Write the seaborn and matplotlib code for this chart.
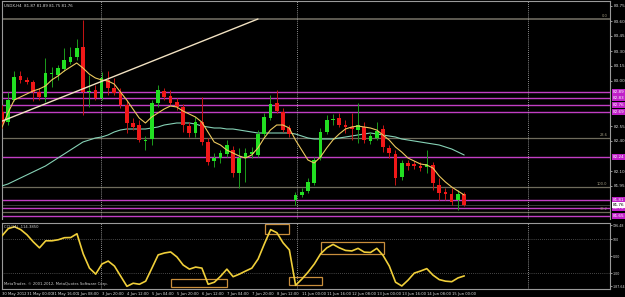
import numpy as np
import pandas as pd
import seaborn as sns
import matplotlib.pyplot as plt
from matplotlib.patches import Rectangle

# USDX H4 candles
opens = [82.69, 82.59, 82.81, 83.05, 83.01, 82.99, 82.89, 82.84, 83.07, 83.06,
         83.12, 83.19, 83.24, 83.34, 82.89, 82.91, 82.83, 83.01, 82.93, 82.89,
         82.76, 82.58, 82.56, 82.40, 82.42, 82.78, 82.90, 82.85, 82.79, 82.74,
         82.55, 82.48, 82.59, 82.39, 82.20, 82.23, 82.27, 82.31, 82.08, 82.23,
         82.27, 82.26, 82.47, 82.63, 82.78, 82.69, 82.53, 81.81, 81.86, 81.90,
         81.98, 82.23, 82.49, 82.61, 82.63, 82.56, 82.54, 82.51, 82.54, 82.40,
         82.43, 82.52, 82.33, 82.27, 82.04, 82.18, 82.17, 82.15, 82.14, 82.16,
         81.96, 81.89, 81.87, 81.81, 81.87]
highs = [82.76, 82.89, 83.10, 83.10, 83.04, 83.01, 82.93, 83.23, 83.14, 83.16,
         83.33, 83.34, 83.42, 83.61, 83.06, 82.96, 83.09, 83.10, 83.03, 82.93,
         82.81, 82.63, 82.61, 82.45, 82.81, 82.96, 82.93, 82.91, 82.83, 82.77,
         82.59, 82.64, 82.84, 82.43, 82.28, 82.31, 82.41, 82.35, 82.33, 82.33,
         82.34, 82.51, 82.68, 82.86, 82.91, 82.73, 82.56, 81.89, 81.93, 82.03,
         82.24, 82.53, 82.66, 82.67, 82.68, 82.61, 82.68, 82.78, 82.59, 82.49,
         82.59, 82.56, 82.36, 82.31, 82.21, 82.21, 82.20, 82.19, 82.31, 82.19,
         82.03, 81.93, 81.93, 81.91, 81.89]
lows = [82.53, 82.56, 82.80, 82.98, 82.97, 82.80, 82.81, 82.79, 82.94, 83.01,
        83.10, 83.17, 83.21, 82.66, 82.74, 82.81, 82.81, 82.86, 82.86, 82.73,
        82.48, 82.51, 82.39, 82.31, 82.36, 82.74, 82.81, 82.76, 82.71, 82.49,
        82.44, 82.44, 82.36, 82.16, 82.14, 82.18, 82.24, 82.04, 81.93, 81.99,
        82.23, 82.24, 82.45, 82.61, 82.68, 82.49, 82.44, 81.76, 81.84, 81.88,
        81.96, 82.21, 82.47, 82.56, 82.54, 82.48, 82.41, 82.38, 82.38, 82.37,
        82.41, 82.29, 82.23, 81.96, 82.01, 82.11, 82.12, 82.10, 82.08, 81.91,
        81.81, 81.81, 81.76, 81.71, 81.75]
closes = [82.58, 82.81, 83.04, 83.01, 82.99, 82.89, 82.84, 83.08, 83.08, 83.13,
          83.21, 83.24, 83.33, 82.89, 82.90, 82.83, 83.03, 82.93, 82.88, 82.76,
          82.58, 82.54, 82.41, 82.41, 82.78, 82.91, 82.84, 82.78, 82.74, 82.56,
          82.48, 82.59, 82.39, 82.19, 82.23, 82.28, 82.36, 82.08, 82.23, 82.28,
          82.29, 82.47, 82.64, 82.77, 82.70, 82.51, 82.47, 81.86, 81.89, 81.99,
          82.21, 82.49, 82.61, 82.62, 82.56, 82.54, 82.52, 82.56, 82.41, 82.45,
          82.50, 82.34, 82.28, 82.03, 82.18, 82.15, 82.15, 82.13, 82.17, 81.98,
          81.88, 81.87, 81.79, 81.87, 81.76]

# moving averages as drawn on the chart
ma_fast = [82.53, 82.68, 82.81, 82.84, 82.87, 82.90, 82.92, 82.95, 83.01, 83.05,
           83.10, 83.14, 83.18, 83.13, 83.07, 83.03, 83.01, 83.00, 82.97, 82.89,
           82.81, 82.72, 82.63, 82.58, 82.64, 82.68, 82.72, 82.75, 82.74, 82.70,
           82.67, 82.64, 82.59, 82.49, 82.39, 82.36, 82.31, 82.28, 82.25, 82.23,
           82.26, 82.33, 82.43, 82.51, 82.56, 82.56, 82.53, 82.41, 82.31, 82.21,
           82.18, 82.24, 82.33, 82.41, 82.47, 82.52, 82.54, 82.55, 82.54, 82.53,
           82.51, 82.46, 82.41, 82.34, 82.29, 82.23, 82.20, 82.17, 82.16, 82.13,
           82.05, 81.99, 81.94, 81.90, 81.86]
ma_slow = [81.95, 81.97, 82.00, 82.03, 82.06, 82.09, 82.12, 82.15, 82.19, 82.23,
           82.27, 82.31, 82.35, 82.39, 82.41, 82.43, 82.44, 82.46, 82.49, 82.51,
           82.52, 82.52, 82.52, 82.52, 82.53, 82.54, 82.56, 82.57, 82.58, 82.58,
           82.58, 82.57, 82.55, 82.54, 82.53, 82.53, 82.52, 82.52, 82.51, 82.50,
           82.49, 82.48, 82.48, 82.48, 82.48, 82.48, 82.48, 82.47, 82.45, 82.43,
           82.42, 82.42, 82.42, 82.42, 82.43, 82.44, 82.45, 82.46, 82.47, 82.48,
           82.47, 82.46, 82.45, 82.44, 82.42, 82.41, 82.40, 82.39, 82.38, 82.37,
           82.36, 82.34, 82.32, 82.29, 82.26]

# CCI(14) sub-window
cci = [119, 161, 172, 155, 125, 84, 49, 90, 90, 96,
       108, 109, 131, 14, -69, -104, -45, -28, -57, -116,
       -175, -157, -163, -145, -69, 8, 19, 25, -4, -51,
       -75, -63, -69, -163, -151, -116, -75, -119, -104, -86,
       -69, -16, 72, 155, 137, 78, 37, -169, -133, -92,
       -45, 14, 49, 69, 49, 34, 31, 46, 24, 22,
       46, 5, -57, -151, -173, -139, -98, -86, -72, -110,
       -136, -145, -148, -126, -114.385]

x_labels = ["30 May 2012", "31 May 00:00", "31 May 16:00", "1 Jun 08:00", "3 Jun 20:00",
            "4 Jun 12:00", "5 Jun 04:00", "5 Jun 20:00", "6 Jun 12:00", "7 Jun 04:00",
            "7 Jun 20:00", "8 Jun 12:00", "11 Jun 00:00", "11 Jun 16:00", "12 Jun 08:00",
            "13 Jun 00:00", "13 Jun 16:00", "14 Jun 08:00", "15 Jun 00:00"]
x_label_bars = list(range(0, 73, 4))

price_ticks = [83.75, 83.60, 83.45, 83.30, 83.15, 83.00, 82.55, 82.40, 82.10, 81.95]

# chart objects
magenta_levels = [82.89, 82.83, 82.76, 82.69, 82.24, 81.81, 81.73, 81.65]
fib_levels = [83.62, 82.43, 81.94, 81.69]
fib_names = ["0.0", "23.6", "100.0", "38.2"]
bid_price = 81.76
trend_bars = [-0.3, 41.0]
trend_prices = [82.59, 83.62]
separators = [15.9, 47.2, 84.2]
cci_boxes = [(27.1, 36.0, -180, -133), (42.1, 46.0, 129, 188),
             (46.0, 51.2, -165, -120), (51.0, 61.1, 12, 82)]

sns.set_theme(style="dark", rc={"axes.facecolor": "black", "figure.facecolor": "black",
                                "axes.edgecolor": "#9a9a9a", "axes.grid": False})
plt.rcParams['font.family'] = ['DejaVu Sans']

df = pd.DataFrame({"open": opens, "high": highs, "low": lows, "close": closes,
                   "ma_fast": ma_fast, "ma_slow": ma_slow, "cci": cci})
df["bar"] = np.arange(len(df))

fig = plt.figure(figsize=(6.25, 2.97), dpi=100)
ax = fig.add_axes([2 / 625, 78 / 297, 608 / 625, 218 / 297])
ax2 = fig.add_axes([2 / 625, 8.5 / 297, 608 / 625, 66 / 297])

xlim = (0.05, 97.33)

# horizontal objects (behind candles)
for lv in magenta_levels:
    ax.axhline(lv, color="#c23ec4", lw=1.0, zorder=1)
for i, lv in enumerate(fib_levels):
    ax.axhline(lv, color="#5e5b52" if i == 0 else "#6f6b5c", lw=1.4 if i == 0 else 0.9, zorder=1)
    ax.text(96.9, lv + 0.01, fib_names[i], color="#a09a80", fontsize=2.6,
            ha="right", va="bottom", zorder=2)
ax.axhline(bid_price, color="#3c3c3c", lw=0.7, zorder=1)

for sx in separators:
    ax.axvline(sx, color="#bdbdbd", lw=0.6, ls=(0, (1, 1.5)), zorder=1)
    ax2.axvline(sx, color="#bdbdbd", lw=0.6, ls=(0, (1, 1.5)), zorder=1)

# moving averages
sns.lineplot(data=df, x="bar", y="ma_slow", ax=ax, color="#86d2b6", lw=0.8, legend=False, zorder=3)
sns.lineplot(data=df, x="bar", y="ma_fast", ax=ax, color="#ecc95e", lw=0.8, legend=False, zorder=5)

# candles
o = df["open"].to_numpy()
c = df["close"].to_numpy()
up = c >= o
body_col = np.where(up, "#22e022", "#f01818")
wick_col = np.where(up, "#1c9c1c", "#c81414")
ax.vlines(df["bar"], df["low"], df["high"], colors=wick_col, lw=0.7, zorder=4)
heights = np.maximum(np.abs(c - o), 0.012)
ax.bar(df["bar"], heights, bottom=np.minimum(o, c), width=0.58, color=body_col,
       linewidth=0, zorder=4)

# trend line
ax.plot(trend_bars, trend_prices, color="#f2e2c2", lw=1.0, zorder=6)

ax.set_xlim(*xlim)
ax.set_ylim(81.62, 83.80)
ax.set_xticks([])
ax.yaxis.tick_right()
ax.set_yticks(price_ticks)
ax.set_yticklabels([f"{p:.2f}" for p in price_ticks])
ax.tick_params(axis="y", colors="#d8d8d8", labelsize=3, length=1.5, width=0.5, pad=1)
ax.set_ylabel("")
ax.set_xlabel("")
ax.spines["bottom"].set_visible(False)
for s in ["top", "left", "right"]:
    ax.spines[s].set_color("#9a9a9a")
    ax.spines[s].set_linewidth(0.8)

# price tags for the magenta levels and the bid
for lv in magenta_levels:
    ax.text(1.004, lv, f"{lv:.2f}", transform=ax.get_yaxis_transform(), fontsize=3,
            color="white", va="center", ha="left",
            bbox=dict(boxstyle="square,pad=0.15", fc="#c020c8", ec="none"), clip_on=False)
ax.text(1.004, bid_price, f"{bid_price:.2f}", transform=ax.get_yaxis_transform(), fontsize=3,
        color="black", va="center", ha="left",
        bbox=dict(boxstyle="square,pad=0.15", fc="white", ec="none"), clip_on=False)

ax.text(0.004, 0.985, "USDX,H4  81.87 81.89 81.75 81.76", transform=ax.transAxes,
        color="#e0e0e0", fontsize=2.8, va="top", ha="left")

# CCI window
for lv in [100, -100]:
    ax2.axhline(lv, color="#8a8a8a", lw=0.5, ls=(0, (1, 2)), zorder=1)
for x0, x1, y0, y1 in cci_boxes:
    ax2.add_patch(Rectangle((x0, y0), x1 - x0, y1 - y0, fill=False,
                            ec="#c98e3c", lw=0.9, zorder=2))
sns.lineplot(data=df, x="bar", y="cci", ax=ax2, color="#f0cf3a", lw=1.2, legend=False, zorder=3)

ax2.set_xlim(*xlim)
ax2.set_ylim(-187.64, 196.48)
ax2.yaxis.tick_right()
cci_ticks = [180, 100, 0, -100, -175]
ax2.set_yticks(cci_ticks)
ax2.set_yticklabels(["196.48", "100", "0.00", "-100", "-187.64"])
ax2.tick_params(axis="y", colors="#d8d8d8", labelsize=2.3, length=1.2, width=0.5, pad=0.6)
ax2.set_xticks(x_label_bars)
ax2.set_xticklabels(x_labels, ha="left")
ax2.tick_params(axis="x", colors="#e0e0e0", labelsize=2.7, length=1.5, width=0.5, pad=1)
ax2.set_ylabel("")
ax2.set_xlabel("")
for s in ["top", "left", "right", "bottom"]:
    ax2.spines[s].set_color("#9a9a9a")
    ax2.spines[s].set_linewidth(0.8)

ax2.text(0.004, 0.96, "CCI(14) -114.3850", transform=ax2.transAxes,
         color="#d0d0d0", fontsize=2.7, va="top", ha="left")
ax2.text(0.004, 0.04, "MetaTrader, \u00a9 2001-2012, MetaQuotes Software Corp.",
         transform=ax2.transAxes, color="#d0d0d0", fontsize=2.7, va="bottom", ha="left")

fig.savefig("out.png", dpi=100, facecolor="black")
